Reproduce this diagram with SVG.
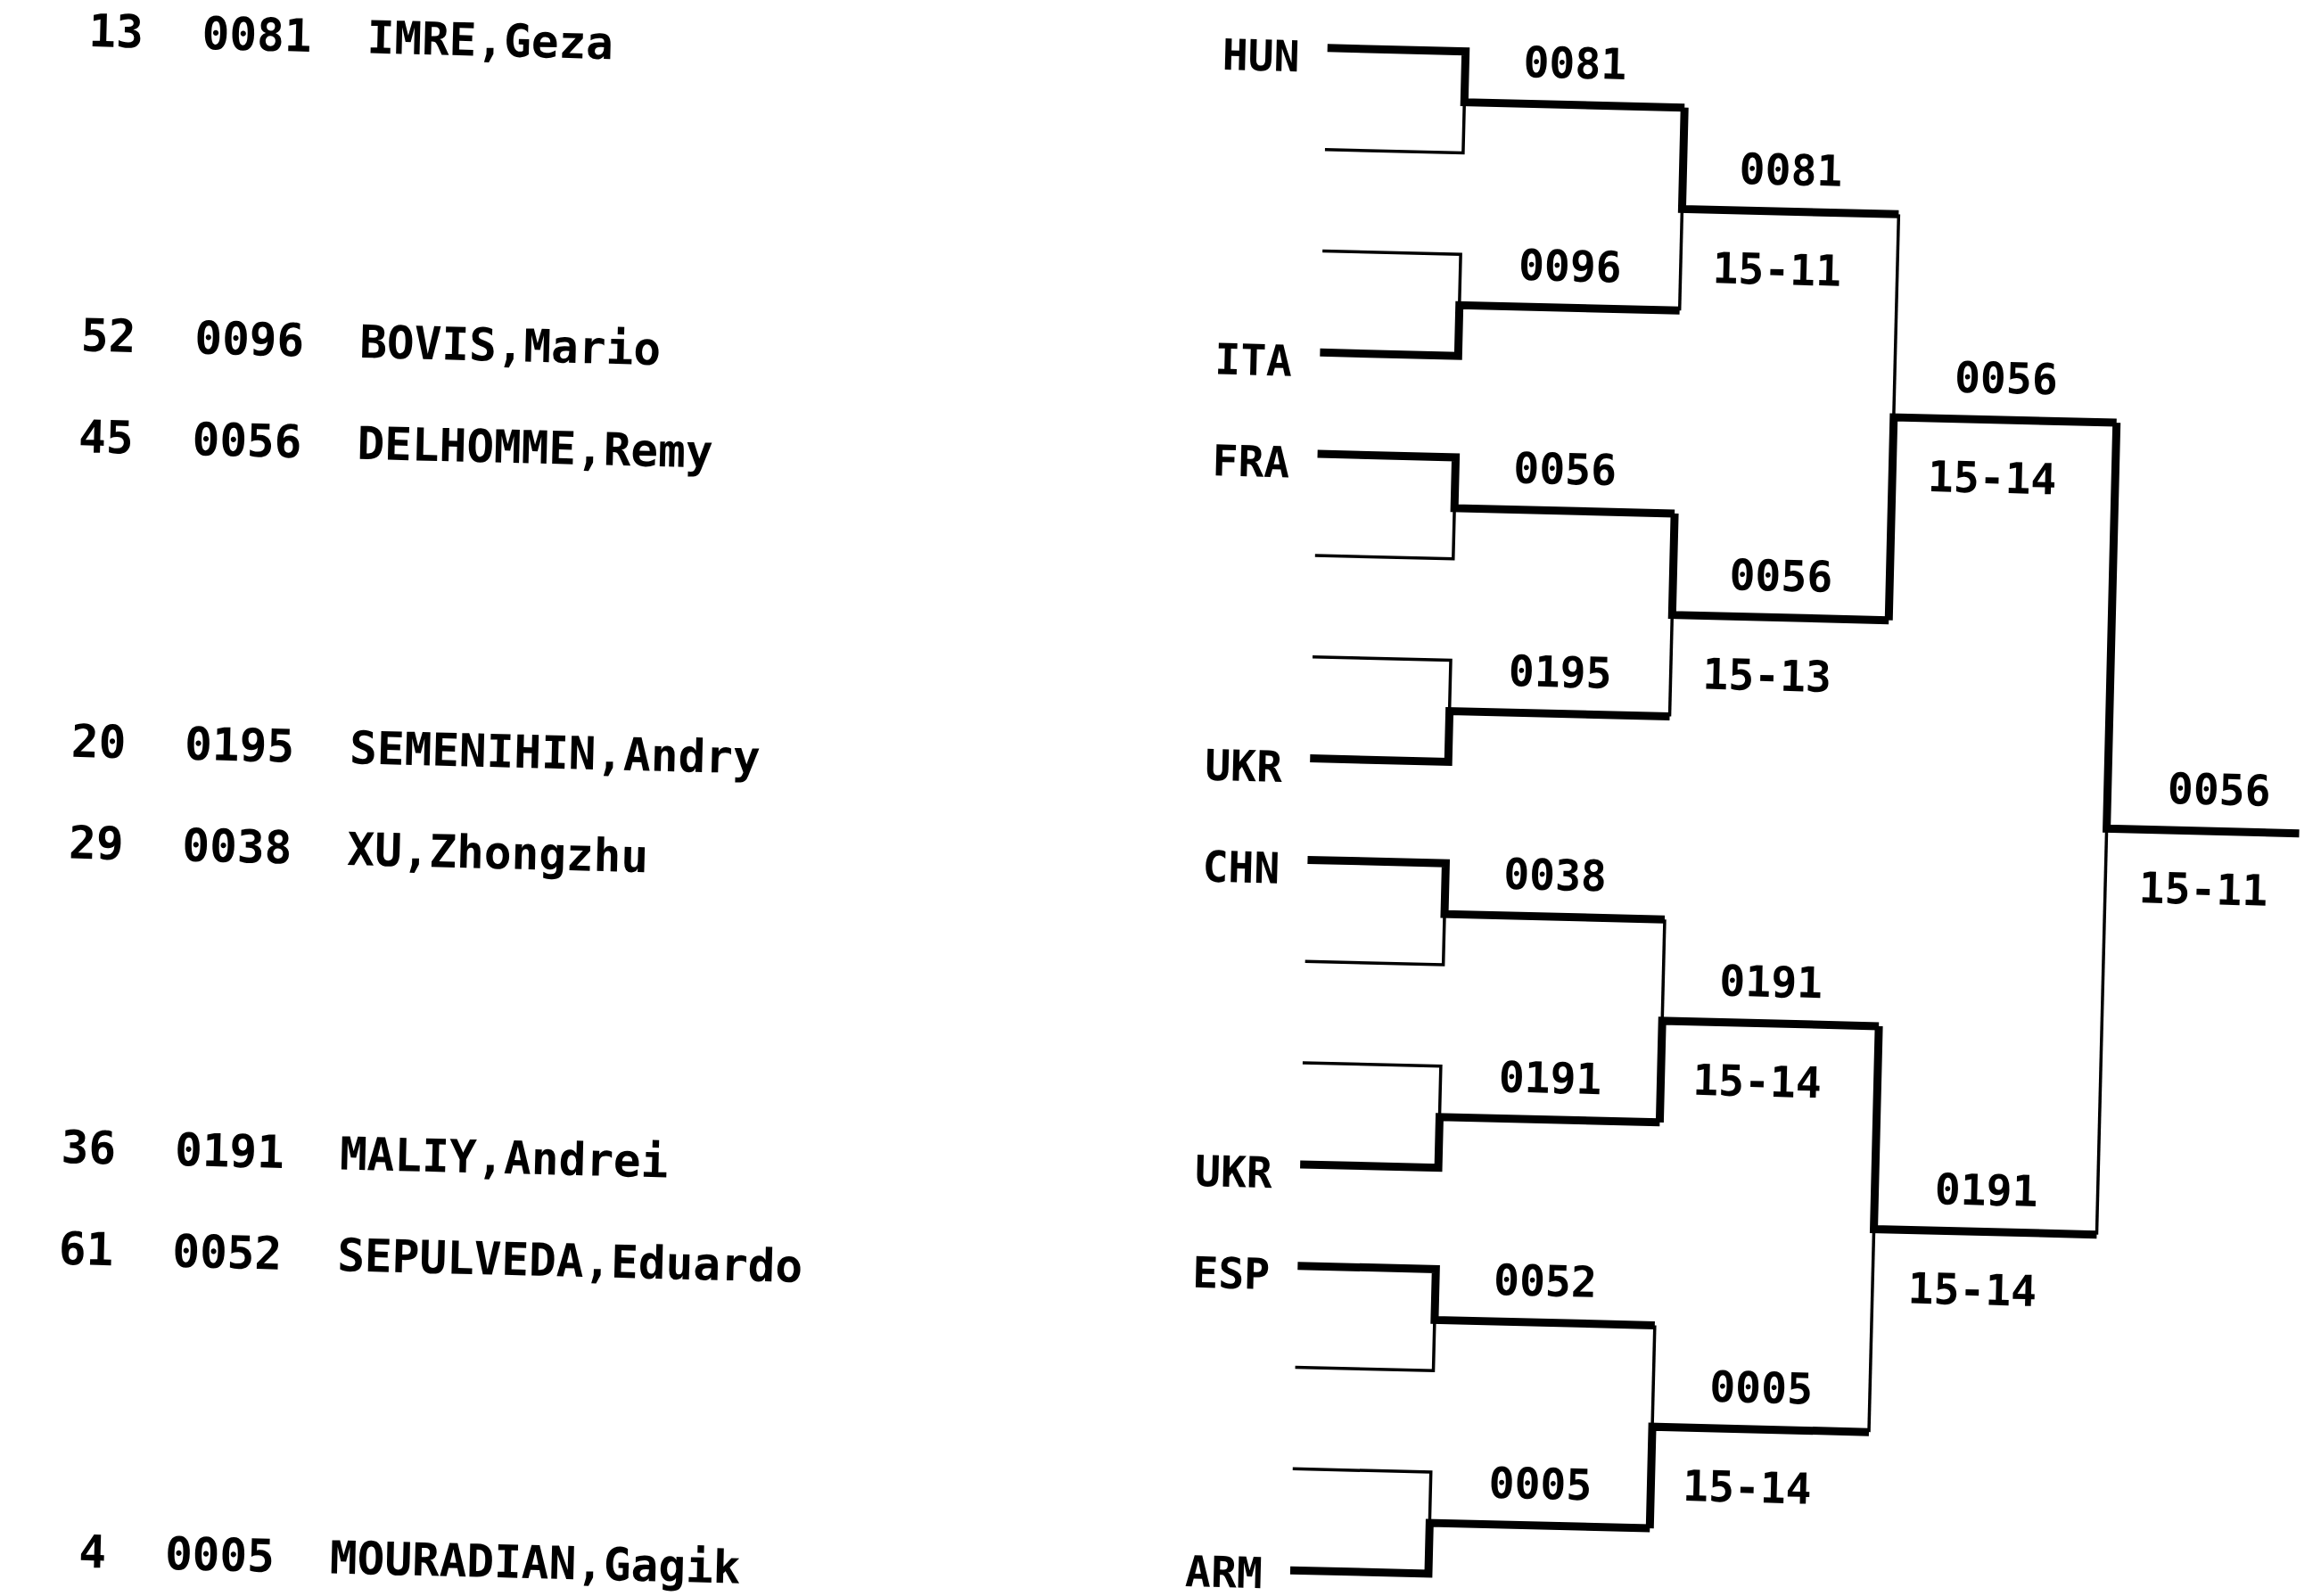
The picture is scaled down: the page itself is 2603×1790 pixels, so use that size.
<svg xmlns="http://www.w3.org/2000/svg" width="2603" height="1790" viewBox="0 0 2603 1790">
<style>
text{font-family:"DejaVu Sans Mono","Liberation Mono",monospace;font-weight:bold;fill:#000}
.l{font-size:51px}
.b{font-size:48px}
.c{text-anchor:middle}
.e{text-anchor:end}
.thick{fill:none;stroke:#000;stroke-width:9;stroke-linejoin:miter}
.thin{fill:none;stroke:#000;stroke-width:3.5;stroke-linejoin:miter}
</style>
<rect width="2603" height="1790" fill="#fff"/>
<g transform="rotate(1.4 1300 900)">
<g id="entry-list">
<g id="row-13"><text class="l e" x="140" y="81.5">13</text><text class="l" x="206" y="81.5">0081</text><text class="l" x="391" y="81.5">IMRE,Geza</text></g>
<g id="row-52"><text class="l e" x="140" y="423.1">52</text><text class="l" x="206" y="423.1">0096</text><text class="l" x="391" y="423.1">BOVIS,Mario</text></g>
<g id="row-45"><text class="l e" x="140" y="536.9">45</text><text class="l" x="206" y="536.9">0056</text><text class="l" x="391" y="536.9">DELHOMME,Remy</text></g>
<g id="row-20"><text class="l e" x="140" y="878.5">20</text><text class="l" x="206" y="878.5">0195</text><text class="l" x="391" y="878.5">SEMENIHIN,Andry</text></g>
<g id="row-29"><text class="l e" x="140" y="992.3">29</text><text class="l" x="206" y="992.3">0038</text><text class="l" x="391" y="992.3">XU,Zhongzhu</text></g>
<g id="row-36"><text class="l e" x="140" y="1333.9">36</text><text class="l" x="206" y="1333.9">0191</text><text class="l" x="391" y="1333.9">MALIY,Andrei</text></g>
<g id="row-61"><text class="l e" x="140" y="1447.7">61</text><text class="l" x="206" y="1447.7">0052</text><text class="l" x="391" y="1447.7">SEPULVEDA,Eduardo</text></g>
<g id="row-4"><text class="l e" x="140" y="1787">4</text><text class="l" x="206" y="1787">0005</text><text class="l" x="391" y="1787">MOURADIAN,Gagik</text></g>
</g>
<g id="connectors">
<path class="thin" d="M1468,163.4H1623V106.5"/>
<path class="thick" d="M1468,49.5H1623V106.5H1870"/>
<path class="thin" d="M1468,277.2H1623V334.2"/>
<path class="thick" d="M1468,391.1H1623V334.2H1870"/>
<path class="thin" d="M1468,618.8H1623V561.9"/>
<path class="thick" d="M1468,504.9H1623V561.9H1870"/>
<path class="thin" d="M1468,732.6H1623V789.6"/>
<path class="thick" d="M1468,846.5H1623V789.6H1870"/>
<path class="thin" d="M1468,1074.2H1623V1017.3"/>
<path class="thick" d="M1468,960.3H1623V1017.3H1870"/>
<path class="thin" d="M1468,1188H1623V1245"/>
<path class="thick" d="M1468,1301.9H1623V1245H1870"/>
<path class="thin" d="M1468,1529.6H1623V1472.7"/>
<path class="thick" d="M1468,1415.7H1623V1472.7H1870"/>
<path class="thin" d="M1468,1643.4H1623V1700.4"/>
<path class="thick" d="M1468,1757.3H1623V1700.4H1870"/>
<path class="thin" d="M1870,220.3V334.2"/>
<path class="thick" d="M1870,106.5V220.3H2113"/>
<path class="thin" d="M1870,675.7V789.6"/>
<path class="thick" d="M1870,561.9V675.7H2113"/>
<path class="thin" d="M1870,1017.3V1131.1"/>
<path class="thick" d="M1870,1245V1131.1H2113"/>
<path class="thin" d="M1870,1472.7V1586.5"/>
<path class="thick" d="M1870,1700.4V1586.5H2113"/>
<path class="thin" d="M2113,220.3V448"/>
<path class="thick" d="M2113,675.7V448H2363"/>
<path class="thin" d="M2113,1358.8V1586.5"/>
<path class="thick" d="M2113,1131.1V1358.8H2363"/>
<path class="thin" d="M2363,903.4V1358.8"/>
<path class="thick" d="M2363,448V903.4H2579"/>
</g>
<g id="countries">
<g id="c-hun"><text class="b e" x="1437" y="76.5">HUN</text></g>
<g id="c-ita"><text class="b e" x="1437" y="418.1">ITA</text></g>
<g id="c-fra"><text class="b e" x="1437" y="531.9">FRA</text></g>
<g id="c-ukr1"><text class="b e" x="1437" y="873.5">UKR</text></g>
<g id="c-chn"><text class="b e" x="1437" y="987.3">CHN</text></g>
<g id="c-ukr2"><text class="b e" x="1437" y="1328.9">UKR</text></g>
<g id="c-esp"><text class="b e" x="1437" y="1442.7">ESP</text></g>
<g id="c-arm"><text class="b e" x="1437" y="1778">ARM</text></g>
</g>
<g id="round1">
<g id="m1"><text class="b c" x="1746" y="76.5">0081</text></g>
<g id="m2"><text class="b c" x="1746" y="304.2">0096</text></g>
<g id="m3"><text class="b c" x="1746" y="531.9">0056</text></g>
<g id="m4"><text class="b c" x="1746" y="759.6">0195</text></g>
<g id="m5"><text class="b c" x="1746" y="987.3">0038</text></g>
<g id="m6"><text class="b c" x="1746" y="1215">0191</text></g>
<g id="m7"><text class="b c" x="1746" y="1442.7">0052</text></g>
<g id="m8"><text class="b c" x="1746" y="1670.4">0005</text></g>
</g>
<g id="round2">
<g id="q1"><text class="b c" x="1991" y="190.3">0081</text><text class="b c" x="1978" y="302.3">15-11</text></g>
<g id="q2"><text class="b c" x="1991" y="645.7">0056</text><text class="b c" x="1978" y="757.7">15-13</text></g>
<g id="q3"><text class="b c" x="1991" y="1101.1">0191</text><text class="b c" x="1978" y="1213.1">15-14</text></g>
<g id="q4"><text class="b c" x="1991" y="1556.5">0005</text><text class="b c" x="1978" y="1668.5">15-14</text></g>
</g>
<g id="round3">
<g id="s1"><text class="b c" x="2238" y="418">0056</text><text class="b c" x="2225" y="530">15-14</text></g>
<g id="s2"><text class="b c" x="2238" y="1328.8">0191</text><text class="b c" x="2225" y="1440.8">15-14</text></g>
</g>
<g id="final"><text class="b c" x="2488" y="873.4">0056</text><text class="b c" x="2473" y="985.4">15-11</text></g>
</g>
</svg>
